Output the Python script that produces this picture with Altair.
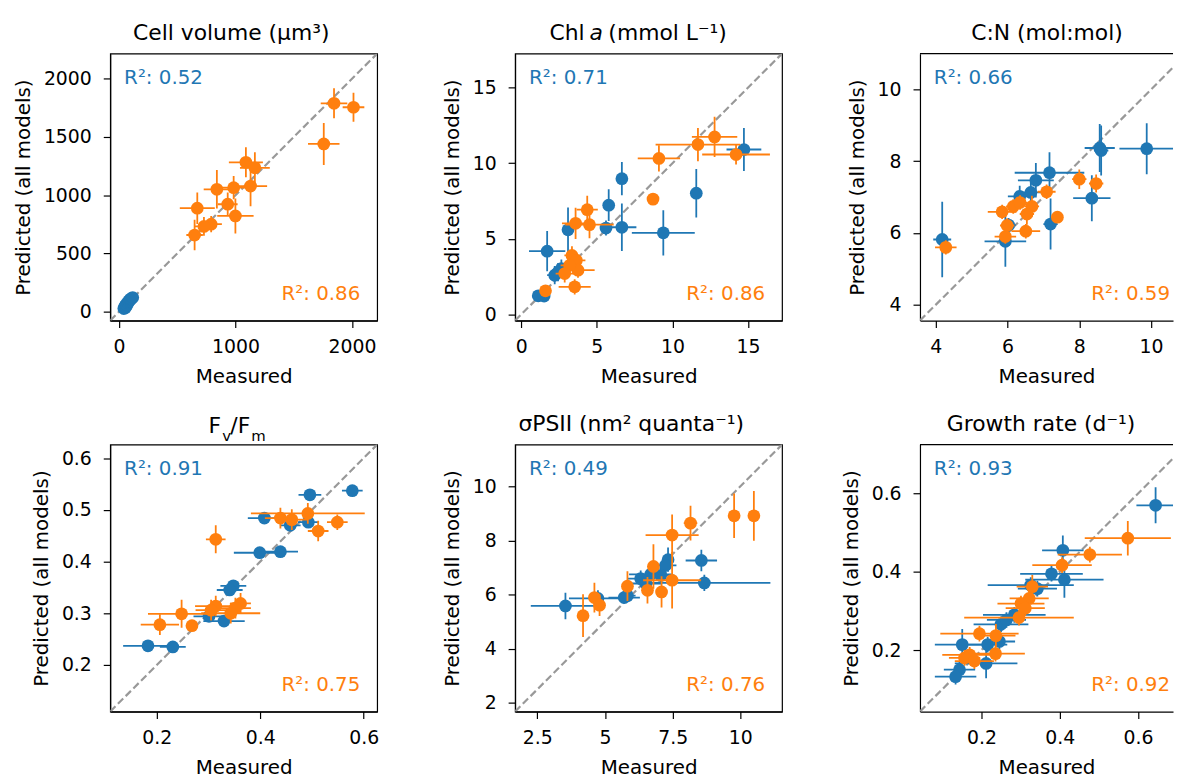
import altair as alt
import pandas as pd

BLUE = "#1f77b4"
ORANGE = "#ff7f0e"
FONT = "DejaVu Sans"

# each tuple: (measured, predicted, x error, y error)
CELLVOL_BLUE = [(42, 28, 8, 10), (55, 35, 8, 10), (50, 45, 8, 12), (58, 52, 10, 12), (70, 58, 10, 12),
                (62, 65, 10, 15), (75, 78, 12, 15), (82, 88, 12, 15), (88, 95, 12, 18), (95, 102, 12, 18),
                (100, 110, 15, 18), (108, 115, 15, 20), (118, 122, 15, 20)]
CELLVOL_ORANGE = [(1845, 1789, 114, 128), (2012, 1755, 93, 125), (1757, 1440, 135, 180), (1089, 1283, 146, 128),
                  (1166, 1235, 128, 135), (1129, 1079, 142, 173), (984, 1065, 100, 100), (840, 1051, 113, 165),
                  (933, 923, 85, 100), (999, 823, 156, 150), (672, 889, 150, 135), (791, 752, 92, 70),
                  (729, 733, 80, 80), (649, 659, 71, 130)]

CHL_BLUE = [(14.73, 10.91, 1.15, 1.42), (11.58, 8.02, 0.2, 1.6), (6.66, 8.98, 0.2, 1.1), (5.79, 7.23, 0.2, 1.05),
            (9.4, 5.4, 2.08, 1.5), (6.66, 5.77, 0.96, 1.57), (5.61, 5.72, 0.3, 0.5), (3.1, 5.6, 0.3, 1.47),
            (1.72, 4.19, 1.2, 1.33), (2.22, 2.6, 0.5, 0.6), (2.44, 2.8, 0.4, 0.6), (2.66, 3.03, 0.4, 0.6),
            (1.13, 1.24, 0.3, 0.3), (1.52, 1.22, 0.3, 0.3)]
CHL_ORANGE = [(12.79, 11.74, 1.5, 1.33), (11.69, 11.24, 2.8, 1.1), (14.21, 10.58, 2.24, 0.66), (9.11, 10.32, 1.4, 0.87),
              (8.72, 7.63, 0.1, 0.1), (4.37, 6.93, 0.7, 0.93), (3.6, 6.03, 0.9, 1.03), (4.52, 5.94, 1.6, 0.9),
              (3.36, 3.91, 0.5, 0.6), (3.65, 3.58, 0.6, 0.5), (3.76, 2.93, 1.1, 0.5), (3.21, 3.25, 0.6, 0.5),
              (2.88, 2.71, 0.6, 0.6), (3.54, 1.83, 1.06, 0.5), (1.61, 1.57, 0.2, 0.2)]

CN_BLUE = [(9.88, 8.35, 0.76, 0.71), (8.57, 8.37, 0.42, 0.67), (8.61, 8.3, 0.2, 0.7), (7.17, 7.68, 0.97, 0.57),
           (6.79, 7.47, 0.5, 0.48), (8.35, 6.97, 0.52, 0.64), (6.34, 7.02, 0.33, 0.3), (6.65, 7.13, 0.3, 0.3),
           (7.2, 6.25, 0.2, 0.71), (6.03, 6.22, 0.2, 0.2), (5.94, 5.77, 0.58, 0.71), (4.18, 5.82, 0.25, 1.05)]
CN_ORANGE = [(8.0, 7.5, 0.2, 0.27), (8.47, 7.38, 0.2, 0.25), (7.09, 7.15, 0.25, 0.2), (7.39, 6.44, 0.15, 0.15),
             (6.68, 6.74, 0.2, 0.3), (6.54, 6.53, 0.2, 0.3), (6.16, 6.74, 0.2, 0.2), (5.85, 6.59, 0.4, 0.2),
             (6.51, 6.05, 0.4, 0.2), (5.94, 5.9, 0.3, 0.2), (4.28, 5.6, 0.3, 0.2), (5.99, 6.21, 0.2, 0.2),
             (6.35, 6.85, 0.2, 0.2)]

FVFM_BLUE = [(0.578, 0.537, 0.02, 0.005), (0.496, 0.529, 0.022, 0.005), (0.408, 0.484, 0.032, 0.005),
             (0.458, 0.47, 0.02, 0.01), (0.493, 0.476, 0.02, 0.01), (0.399, 0.417, 0.05, 0.005),
             (0.439, 0.419, 0.034, 0.01), (0.348, 0.353, 0.025, 0.005), (0.341, 0.345, 0.025, 0.005),
             (0.301, 0.294, 0.03, 0.005), (0.33, 0.285, 0.04, 0.005), (0.183, 0.237, 0.048, 0.005),
             (0.231, 0.235, 0.025, 0.005)]
FVFM_ORANGE = [(0.314, 0.443, 0.019, 0.027), (0.492, 0.493, 0.11, 0.02), (0.439, 0.484, 0.03, 0.02),
               (0.461, 0.481, 0.03, 0.02), (0.512, 0.459, 0.02, 0.02), (0.549, 0.476, 0.02, 0.015),
               (0.314, 0.314, 0.04, 0.02), (0.305, 0.306, 0.03, 0.02), (0.362, 0.319, 0.02, 0.02),
               (0.352, 0.31, 0.03, 0.02), (0.343, 0.3, 0.057, 0.02), (0.248, 0.299, 0.065, 0.027),
               (0.206, 0.278, 0.037, 0.02), (0.268, 0.276, 0.01, 0.01)]

SIGMA_BLUE = [(3.54, 5.58, 1.28, 0.49), (4.74, 5.86, 1.07, 0.3), (5.71, 5.89, 0.58, 0.2), (5.83, 5.96, 0.3, 0.2),
              (8.67, 6.43, 2.44, 0.3), (8.56, 7.26, 0.58, 0.4), (7.33, 7.29, 0.2, 0.45), (7.24, 7.08, 0.4, 0.3),
              (6.69, 6.75, 0.8, 0.3), (7.06, 6.71, 0.5, 0.3), (6.32, 6.59, 0.5, 0.3), (6.51, 6.41, 0.6, 0.3)]
SIGMA_ORANGE = [(10.5, 8.91, 0.1, 0.92), (9.77, 8.91, 0.1, 0.82), (8.16, 8.64, 0.25, 0.64), (7.48, 8.2, 0.98, 0.76),
                (6.79, 7.04, 0.2, 0.82), (5.83, 6.31, 0.2, 0.55), (6.57, 6.16, 0.2, 0.49), (7.09, 6.1, 0.2, 0.58),
                (7.48, 6.53, 1.07, 1.04), (4.61, 5.89, 0.2, 0.55), (4.8, 5.61, 0.2, 0.4), (4.19, 5.22, 0.2, 0.79)]

GROWTH_BLUE = [(0.645, 0.57, 0.049, 0.046), (0.408, 0.455, 0.053, 0.038), (0.379, 0.395, 0.08, 0.02),
               (0.412, 0.38, 0.1, 0.046), (0.326, 0.366, 0.11, 0.02), (0.343, 0.357, 0.05, 0.02),
               (0.25, 0.266, 0.07, 0.02), (0.264, 0.277, 0.05, 0.02), (0.284, 0.29, 0.08, 0.02),
               (0.151, 0.214, 0.07, 0.04), (0.216, 0.214, 0.05, 0.02), (0.246, 0.222, 0.04, 0.02),
               (0.212, 0.166, 0.08, 0.038), (0.144, 0.15, 0.04, 0.02), (0.134, 0.132, 0.053, 0.02)]
GROWTH_ORANGE = [(0.574, 0.486, 0.11, 0.044), (0.477, 0.444, 0.082, 0.02), (0.406, 0.417, 0.076, 0.02),
                 (0.33, 0.362, 0.04, 0.03), (0.322, 0.332, 0.05, 0.03), (0.301, 0.319, 0.06, 0.02),
                 (0.312, 0.307, 0.05, 0.02), (0.296, 0.283, 0.14, 0.02), (0.195, 0.242, 0.1, 0.02),
                 (0.237, 0.237, 0.05, 0.03), (0.236, 0.191, 0.075, 0.02), (0.17, 0.188, 0.07, 0.02),
                 (0.157, 0.18, 0.04, 0.02), (0.182, 0.172, 0.05, 0.02)]

R2_BLUE = ["0.52", "0.71", "0.66", "0.91", "0.49", "0.93"]
R2_ORANGE = ["0.86", "0.86", "0.59", "0.75", "0.76", "0.92"]

SIZE = 269
COL3_W = 255

# title segments: (text, x, y, fontSize, italic, align)
TITLES = [
    [("Cell volume (μm³)", 122, -14, 22, False, "center")],
    [("Chl", 70, -14, 22, False, "right"), ("a", 75, -14, 22, True, "left"),
     ("(mmol L⁻¹)", 94, -14, 22, False, "left")],
    [("C:N (mol:mol)", 128, -14, 22, False, "center")],
    [("F", 99, -12, 22, False, "left"), ("v", 113, -4, 15, False, "left"),
     ("/F", 121, -12, 22, False, "left"), ("m", 142, -4, 15, False, "left")],
    [("σPSII (nm² quanta⁻¹)", 117, -14, 22, False, "center")],
    [("Growth rate (d⁻¹)", 122, -14, 22, False, "center")],
]

PANELS = [
    dict(blue=CELLVOL_BLUE, orange=CELLVOL_ORANGE, dom=(-75, 2215), xt=[0, 1000, 2000],
         yt=[0, 500, 1000, 1500, 2000], last=False),
    dict(blue=CHL_BLUE, orange=CHL_ORANGE, dom=(-0.4, 17.25), xt=[0, 5, 10, 15], yt=[0, 5, 10, 15], last=False),
    dict(blue=CN_BLUE, orange=CN_ORANGE, dom=(3.56, 11.0), xt=[4, 6, 8, 10], yt=[4, 6, 8, 10], last=True),
    dict(blue=FVFM_BLUE, orange=FVFM_ORANGE, dom=(0.11, 0.626), xt=[0.2, 0.4, 0.6],
         yt=[0.2, 0.3, 0.4, 0.5, 0.6], last=False),
    dict(blue=SIGMA_BLUE, orange=SIGMA_ORANGE, dom=(1.68, 11.54), xt=[2.5, 5, 7.5, 10], yt=[2, 4, 6, 8, 10],
         last=False),
    dict(blue=GROWTH_BLUE, orange=GROWTH_ORANGE, dom=(0.043, 0.725), xt=[0.2, 0.4, 0.6], yt=[0.2, 0.4, 0.6],
         last=True),
]


def frame(rows):
    return pd.DataFrame({
        "x": [r[0] for r in rows], "y": [r[1] for r in rows],
        "xlo": [r[0] - r[2] for r in rows], "xhi": [r[0] + r[2] for r in rows],
        "ylo": [r[1] - r[3] for r in rows], "yhi": [r[1] + r[3] for r in rows],
    })


one = pd.DataFrame({"k": [0]})
LABEL = "'' + datum.value"


def make_panel(i, p):
    lo, hi = p["dom"]
    w = COL3_W if p["last"] else SIZE
    xhi = lo + (hi - lo) * w / SIZE
    xs = alt.Scale(domain=[lo, xhi], nice=False, zero=False)
    ys = alt.Scale(domain=[lo, hi], nice=False, zero=False)
    xaxis = alt.Axis(values=p["xt"], labelExpr=LABEL, title="Measured")
    yaxis = alt.Axis(values=p["yt"], labelExpr=LABEL, title="Predicted (all models)")

    def X(f):
        return alt.X(f, type="quantitative", scale=xs, axis=xaxis)

    def Y(f):
        return alt.Y(f, type="quantitative", scale=ys, axis=yaxis)

    line_df = pd.DataFrame({"x": [lo, xhi], "y": [lo, xhi]})
    layers = [
        alt.Chart(line_df).mark_line(color="#999999", strokeDash=[7.5, 3.5], strokeWidth=2.2, clip=True)
        .encode(x=X("x"), y=Y("y"))
    ]
    for rows, col in ((p["blue"], BLUE), (p["orange"], ORANGE)):
        df = frame(rows)
        layers.append(alt.Chart(df).mark_rule(color=col, strokeWidth=1.8, clip=True).encode(
            x=X("xlo"), x2="xhi:Q", y=Y("y")))
        layers.append(alt.Chart(df).mark_rule(color=col, strokeWidth=1.8, clip=True).encode(
            x=X("x"), y=Y("ylo"), y2="yhi:Q"))
        layers.append(alt.Chart(df).mark_circle(color=col, size=165, opacity=1, clip=True).encode(
            x=X("x"), y=Y("y")))

    layers.append(alt.Chart(one).mark_text(text="R²: " + R2_BLUE[i], align="left", baseline="alphabetic",
                                           font=FONT, fontSize=20, color=BLUE)
                  .encode(x=alt.value(14), y=alt.value(31)))
    layers.append(alt.Chart(one).mark_text(text="R²: " + R2_ORANGE[i], align="right", baseline="alphabetic",
                                           font=FONT, fontSize=20, color=ORANGE)
                  .encode(x=alt.value(252), y=alt.value(248)))
    for text, tx, ty, fs, ital, al in TITLES[i]:
        kw = dict(text=text, align=al, baseline="alphabetic", font=FONT, fontSize=fs, color="black")
        if ital:
            kw["fontStyle"] = "italic"
        layers.append(alt.Chart(one).mark_text(**kw).encode(x=alt.value(tx), y=alt.value(ty)))

    if p["last"]:
        layers.append(alt.Chart(one).mark_rule(color="black", strokeWidth=1.2)
                      .encode(x=alt.value(0), x2=alt.value(w), y=alt.value(0)))
        return alt.layer(*layers, view=alt.ViewBackground(stroke="transparent")).properties(
            width=w, height=SIZE)
    return alt.layer(*layers).properties(width=w, height=SIZE)


panels = [make_panel(i, p) for i, p in enumerate(PANELS)]

chart = alt.concat(*panels, columns=3, spacing={"row": 125, "column": 139}, bounds="flush").properties(
    padding={"left": 5, "top": 10, "right": 0, "bottom": 0}
).configure_view(stroke="black", strokeWidth=1.2).configure_axis(
    labelFont=FONT, labelFontSize=19, labelColor="black", titleFont=FONT, titleFontSize=20,
    titleFontWeight="normal", titleColor="black", tickColor="black", tickSize=7, tickWidth=1.2,
    domainColor="black", domainWidth=1.2, grid=False
).configure_axisX(labelPadding=10, titlePadding=10).configure_axisY(labelPadding=12, titlePadding=10)

chart.save("out.html", embed_options={"renderer": "svg", "actions": False})
